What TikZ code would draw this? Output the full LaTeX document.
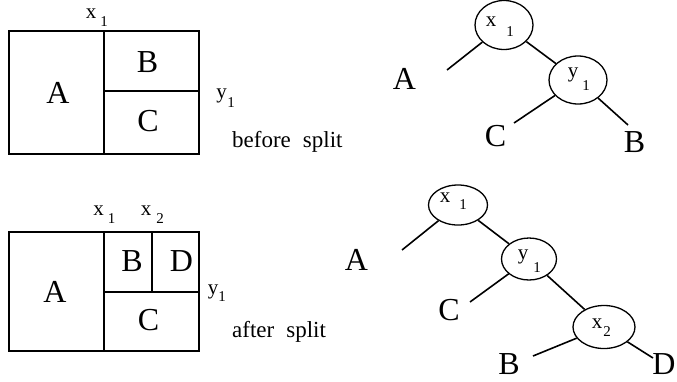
\documentclass[tikz,border=0pt]{standalone}
\usepackage{fontspec}
\setmainfont{Liberation Serif}
\usetikzlibrary{shapes.geometric}
\begin{document}
\begin{tikzpicture}[x=1pt,y=-1pt,
  big/.style={font=\fontsize{32}{32}\selectfont, inner sep=0pt},
  sm/.style={font=\fontsize{21}{21}\selectfont, inner sep=0pt},
  subs/.style={font=\fontsize{15}{15}\selectfont, inner sep=0pt},
  captxt/.style={font=\fontsize{23}{23}\selectfont, inner sep=0pt, anchor=base west},
  box/.style={line width=1.3pt},
  nd/.style={ellipse, draw, line width=1.3pt, inner sep=0pt},
  edge/.style={line width=1.6pt}]
\useasboundingbox (0,0) rectangle (677,381);

% ---------- top rectangle ----------
\draw[box] (9,31) rectangle (199,154);
\draw[box] (104,31) -- (104,154);
\draw[box] (104,91) -- (199,91);
\node[big] (rA1) at (58,92.5) {A};
\node[big] (rB1) at (147.5,62.5) {B};
\node[big] (rC1) at (148,121) {C};
\node[sm] (lx1a) at (91,14) {x};
\node[subs] (lx1b) at (104,21.5) {1};
\node[sm] (ly1a) at (221.5,96) {y};
\node[subs] (ly1b) at (231,103) {1};
\node[captxt] (cap1) at (232,147) {before\hspace{12pt}split};

% ---------- bottom rectangle ----------
\draw[box] (9,232) rectangle (199,351);
\draw[box] (104,232) -- (104,351);
\draw[box] (104,292) -- (199,292);
\draw[box] (152,232) -- (152,292);
\node[big] (rA2) at (55,292) {A};
\node[big] (rB2) at (132,261) {B};
\node[big] (rD2) at (181.5,261) {D};
\node[big] (rC2) at (148.5,320) {C};
\node[sm] (lx2a) at (98.5,211) {x};
\node[subs] (lx2b) at (111.5,218.5) {1};
\node[sm] (lx3a) at (146,211) {x};
\node[subs] (lx3b) at (160,218.5) {2};
\node[sm] (ly2a) at (213,292) {y};
\node[subs] (ly2b) at (222,297) {1};
\node[captxt] (cap2) at (232,337) {after\hspace{12pt}split};

% ---------- top tree ----------
\node[nd, minimum width=58pt, minimum height=49pt] (tx1) at (504,25) {};
\node[nd, minimum width=58pt, minimum height=48pt] (ty1) at (578,80) {};
\node[sm] at (491,22) {x};
\node[subs] at (510,32) {1};
\node[sm] at (573,75) {y};
\node[subs] at (586,86) {1};
\node[big] (tA) at (404.5,79) {A};
\node[big] (tC) at (495.5,136.5) {C};
\node[big] (tB) at (634.5,142) {B};
\coordinate (eA1) at (447,70);
\coordinate (eC1) at (514,123);
\coordinate (eB1) at (628,125);
\draw[edge] (tx1) -- (eA1);
\draw[edge] (tx1) -- (ty1);
\draw[edge] (ty1) -- (eC1);
\draw[edge] (ty1) -- (eB1);

% ---------- bottom tree ----------
\node[nd, minimum width=59pt, minimum height=40pt] (bx1) at (458,205) {};
\node[nd, minimum width=55pt, minimum height=42pt] (by1) at (529,259) {};
\node[nd, minimum width=62pt, minimum height=43pt] (bx2) at (604,327) {};
\node[sm] at (445,198) {x};
\node[subs] at (463,205) {1};
\node[sm] at (523,257) {y};
\node[subs] at (537,268) {1};
\node[sm] at (597,324) {x};
\node[subs] at (607,332) {2};
\node[big] (bA) at (356.5,260) {A};
\node[big] (bC) at (449,310) {C};
\node[big] (bB) at (509,364) {B};
\node[big] (bD) at (664,364) {D};
\coordinate (eA2) at (402,250);
\coordinate (eC2) at (470,302);
\coordinate (eB2) at (533,356);
\coordinate (eD2) at (653,358);
\draw[edge] (bx1) -- (eA2);
\draw[edge] (bx1) -- (by1);
\draw[edge] (by1) -- (eC2);
\draw[edge] (by1) -- (bx2);
\draw[edge] (bx2) -- (eB2);
\draw[edge] (bx2) -- (eD2);
\end{tikzpicture}
\end{document}
